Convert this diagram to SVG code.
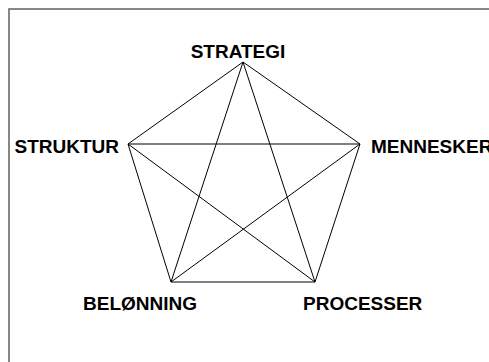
<svg xmlns="http://www.w3.org/2000/svg" width="489" height="362" viewBox="0 0 489 362">
<style>
.lbl{font-family:"Liberation Sans",Arial,sans-serif;font-weight:bold;font-size:19px;fill:#000}
.edge{stroke:#000;stroke-width:1;fill:none}
</style>
<rect x="0" y="0" width="489" height="362" fill="#fff"/>
<rect x="9" y="9" width="520" height="400" fill="none" stroke="#6a6a6a" stroke-width="1.6"/>
<g id="connectors">
<line class="edge" x1="243" y1="62" x2="128" y2="144"/>
<line class="edge" x1="243" y1="62" x2="360" y2="144"/>
<line class="edge" x1="243" y1="62" x2="171" y2="282"/>
<line class="edge" x1="243" y1="62" x2="315" y2="282"/>
<line class="edge" x1="128" y1="144" x2="360" y2="144"/>
<line class="edge" x1="128" y1="144" x2="171" y2="282"/>
<line class="edge" x1="128" y1="144" x2="315" y2="282"/>
<line class="edge" x1="360" y1="144" x2="171" y2="282"/>
<line class="edge" x1="360" y1="144" x2="315" y2="282"/>
<line class="edge" x1="171" y1="282" x2="315" y2="282"/>
</g>
<g id="strategi"><text class="lbl" x="238" y="58" text-anchor="middle">STRATEGI</text></g>
<g id="struktur"><text class="lbl" x="119" y="153" text-anchor="end">STRUKTUR</text></g>
<g id="mennesker"><text class="lbl" x="371" y="153">MENNESKER</text></g>
<g id="beloenning"><text class="lbl" x="83" y="310">BELØNNING</text></g>
<g id="processer"><text class="lbl" x="303" y="310">PROCESSER</text></g>
</svg>
